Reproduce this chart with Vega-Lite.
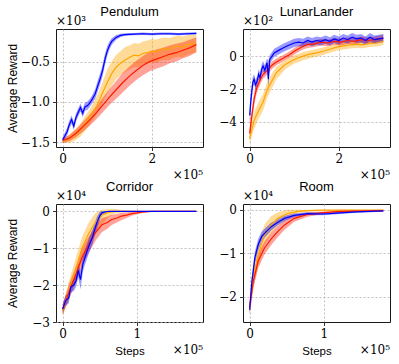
{
  "$schema": "https://vega.github.io/schema/vega-lite/v6.json",
  "padding": {"left": 5, "top": 5, "right": 5, "bottom": 5},
  "background": "white",
  "config": {
    "view": {"stroke": "#1a1a1a", "strokeWidth": 1},
    "axis": {
      "domain": false,
      "labelFont": "DejaVu Serif",
      "labelFontSize": 12,
      "labelColor": "#000",
      "labelPadding": 3,
      "tickColor": "#000",
      "tickSize": 3.5,
      "tickWidth": 0.8,
      "gridColor": "#b0b0b0",
      "gridDash": [2, 2],
      "gridWidth": 0.8,
      "titleFont": "Liberation Sans",
      "titleFontSize": 12,
      "titleFontWeight": "normal",
      "titleColor": "#000"
    },
    "title": {"font": "Liberation Sans", "fontSize": 13, "fontWeight": "normal", "color": "#000", "anchor": "middle", "offset": -4},
    "text": {"font": "DejaVu Serif", "fontSize": 12, "color": "#000"}
  },
  "datasets": {
    "curves": [
      {"p":"Pendulum","m":"Method 1","x":0.0,"y":-1.48,"lo":-1.51,"hi":-1.45},
      {"p":"Pendulum","m":"Method 1","x":0.1,"y":-1.47,"lo":-1.51,"hi":-1.43},
      {"p":"Pendulum","m":"Method 1","x":0.2,"y":-1.44,"lo":-1.5,"hi":-1.38},
      {"p":"Pendulum","m":"Method 1","x":0.3,"y":-1.4,"lo":-1.47,"hi":-1.33},
      {"p":"Pendulum","m":"Method 1","x":0.4,"y":-1.35,"lo":-1.43,"hi":-1.27},
      {"p":"Pendulum","m":"Method 1","x":0.5,"y":-1.27,"lo":-1.36,"hi":-1.18},
      {"p":"Pendulum","m":"Method 1","x":0.6,"y":-1.2,"lo":-1.29,"hi":-1.1},
      {"p":"Pendulum","m":"Method 1","x":0.7,"y":-1.11,"lo":-1.21,"hi":-1.0},
      {"p":"Pendulum","m":"Method 1","x":0.8,"y":-1.01,"lo":-1.12,"hi":-0.89},
      {"p":"Pendulum","m":"Method 1","x":0.9,"y":-0.88,"lo":-1.01,"hi":-0.74},
      {"p":"Pendulum","m":"Method 1","x":1.0,"y":-0.76,"lo":-0.9,"hi":-0.6},
      {"p":"Pendulum","m":"Method 1","x":1.1,"y":-0.65,"lo":-0.8,"hi":-0.5},
      {"p":"Pendulum","m":"Method 1","x":1.2,"y":-0.57,"lo":-0.72,"hi":-0.42},
      {"p":"Pendulum","m":"Method 1","x":1.3,"y":-0.52,"lo":-0.67,"hi":-0.37},
      {"p":"Pendulum","m":"Method 1","x":1.4,"y":-0.48,"lo":-0.63,"hi":-0.32},
      {"p":"Pendulum","m":"Method 1","x":1.5,"y":-0.45,"lo":-0.6,"hi":-0.3},
      {"p":"Pendulum","m":"Method 1","x":1.6,"y":-0.42,"lo":-0.57,"hi":-0.27},
      {"p":"Pendulum","m":"Method 1","x":1.7,"y":-0.43,"lo":-0.57,"hi":-0.28},
      {"p":"Pendulum","m":"Method 1","x":1.8,"y":-0.4,"lo":-0.54,"hi":-0.25},
      {"p":"Pendulum","m":"Method 1","x":1.9,"y":-0.39,"lo":-0.53,"hi":-0.24},
      {"p":"Pendulum","m":"Method 1","x":2.0,"y":-0.37,"lo":-0.51,"hi":-0.22},
      {"p":"Pendulum","m":"Method 1","x":2.1,"y":-0.38,"lo":-0.52,"hi":-0.23},
      {"p":"Pendulum","m":"Method 1","x":2.2,"y":-0.35,"lo":-0.49,"hi":-0.21},
      {"p":"Pendulum","m":"Method 1","x":2.3,"y":-0.34,"lo":-0.48,"hi":-0.2},
      {"p":"Pendulum","m":"Method 1","x":2.4,"y":-0.35,"lo":-0.48,"hi":-0.21},
      {"p":"Pendulum","m":"Method 1","x":2.5,"y":-0.32,"lo":-0.45,"hi":-0.19},
      {"p":"Pendulum","m":"Method 1","x":2.6,"y":-0.31,"lo":-0.44,"hi":-0.18},
      {"p":"Pendulum","m":"Method 1","x":2.7,"y":-0.32,"lo":-0.45,"hi":-0.19},
      {"p":"Pendulum","m":"Method 1","x":2.8,"y":-0.29,"lo":-0.42,"hi":-0.17},
      {"p":"Pendulum","m":"Method 1","x":2.9,"y":-0.28,"lo":-0.4,"hi":-0.17},
      {"p":"Pendulum","m":"Method 1","x":3.0,"y":-0.27,"lo":-0.39,"hi":-0.16},

      {"p":"Pendulum","m":"Method 2","x":0.0,"y":-1.48,"lo":-1.51,"hi":-1.45},
      {"p":"Pendulum","m":"Method 2","x":0.15,"y":-1.45,"lo":-1.49,"hi":-1.41},
      {"p":"Pendulum","m":"Method 2","x":0.3,"y":-1.39,"lo":-1.44,"hi":-1.34},
      {"p":"Pendulum","m":"Method 2","x":0.45,"y":-1.31,"lo":-1.37,"hi":-1.25},
      {"p":"Pendulum","m":"Method 2","x":0.6,"y":-1.23,"lo":-1.3,"hi":-1.16},
      {"p":"Pendulum","m":"Method 2","x":0.75,"y":-1.14,"lo":-1.22,"hi":-1.06},
      {"p":"Pendulum","m":"Method 2","x":0.9,"y":-1.04,"lo":-1.13,"hi":-0.95},
      {"p":"Pendulum","m":"Method 2","x":1.05,"y":-0.94,"lo":-1.04,"hi":-0.84},
      {"p":"Pendulum","m":"Method 2","x":1.2,"y":-0.85,"lo":-0.96,"hi":-0.74},
      {"p":"Pendulum","m":"Method 2","x":1.35,"y":-0.76,"lo":-0.88,"hi":-0.64},
      {"p":"Pendulum","m":"Method 2","x":1.5,"y":-0.68,"lo":-0.8,"hi":-0.56},
      {"p":"Pendulum","m":"Method 2","x":1.65,"y":-0.61,"lo":-0.73,"hi":-0.49},
      {"p":"Pendulum","m":"Method 2","x":1.8,"y":-0.55,"lo":-0.67,"hi":-0.43},
      {"p":"Pendulum","m":"Method 2","x":1.95,"y":-0.5,"lo":-0.62,"hi":-0.38},
      {"p":"Pendulum","m":"Method 2","x":2.1,"y":-0.47,"lo":-0.59,"hi":-0.35},
      {"p":"Pendulum","m":"Method 2","x":2.25,"y":-0.44,"lo":-0.56,"hi":-0.33},
      {"p":"Pendulum","m":"Method 2","x":2.4,"y":-0.41,"lo":-0.52,"hi":-0.3},
      {"p":"Pendulum","m":"Method 2","x":2.55,"y":-0.39,"lo":-0.5,"hi":-0.28},
      {"p":"Pendulum","m":"Method 2","x":2.7,"y":-0.36,"lo":-0.46,"hi":-0.26},
      {"p":"Pendulum","m":"Method 2","x":2.85,"y":-0.33,"lo":-0.43,"hi":-0.23},
      {"p":"Pendulum","m":"Method 2","x":3.0,"y":-0.29,"lo":-0.38,"hi":-0.2},

      {"p":"Pendulum","m":"Method 3","x":0.0,"y":-1.47,"lo":-1.5,"hi":-1.44},
      {"p":"Pendulum","m":"Method 3","x":0.05,"y":-1.42,"lo":-1.46,"hi":-1.38},
      {"p":"Pendulum","m":"Method 3","x":0.1,"y":-1.37,"lo":-1.42,"hi":-1.32},
      {"p":"Pendulum","m":"Method 3","x":0.15,"y":-1.28,"lo":-1.33,"hi":-1.23},
      {"p":"Pendulum","m":"Method 3","x":0.2,"y":-1.22,"lo":-1.27,"hi":-1.17},
      {"p":"Pendulum","m":"Method 3","x":0.25,"y":-1.3,"lo":-1.35,"hi":-1.25},
      {"p":"Pendulum","m":"Method 3","x":0.3,"y":-1.19,"lo":-1.24,"hi":-1.14},
      {"p":"Pendulum","m":"Method 3","x":0.35,"y":-1.13,"lo":-1.18,"hi":-1.08},
      {"p":"Pendulum","m":"Method 3","x":0.4,"y":-1.07,"lo":-1.12,"hi":-1.02},
      {"p":"Pendulum","m":"Method 3","x":0.45,"y":-1.14,"lo":-1.19,"hi":-1.09},
      {"p":"Pendulum","m":"Method 3","x":0.5,"y":-1.06,"lo":-1.11,"hi":-1.01},
      {"p":"Pendulum","m":"Method 3","x":0.55,"y":-1.05,"lo":-1.1,"hi":-1.0},
      {"p":"Pendulum","m":"Method 3","x":0.6,"y":-1.02,"lo":-1.07,"hi":-0.97},
      {"p":"Pendulum","m":"Method 3","x":0.66,"y":-0.97,"lo":-1.02,"hi":-0.92},
      {"p":"Pendulum","m":"Method 3","x":0.73,"y":-0.9,"lo":-0.96,"hi":-0.84},
      {"p":"Pendulum","m":"Method 3","x":0.8,"y":-0.78,"lo":-0.85,"hi":-0.71},
      {"p":"Pendulum","m":"Method 3","x":0.85,"y":-0.7,"lo":-0.77,"hi":-0.63},
      {"p":"Pendulum","m":"Method 3","x":0.9,"y":-0.6,"lo":-0.67,"hi":-0.53},
      {"p":"Pendulum","m":"Method 3","x":0.95,"y":-0.47,"lo":-0.54,"hi":-0.4},
      {"p":"Pendulum","m":"Method 3","x":1.0,"y":-0.37,"lo":-0.43,"hi":-0.31},
      {"p":"Pendulum","m":"Method 3","x":1.05,"y":-0.3,"lo":-0.35,"hi":-0.25},
      {"p":"Pendulum","m":"Method 3","x":1.1,"y":-0.25,"lo":-0.29,"hi":-0.21},
      {"p":"Pendulum","m":"Method 3","x":1.2,"y":-0.2,"lo":-0.23,"hi":-0.17},
      {"p":"Pendulum","m":"Method 3","x":1.3,"y":-0.175,"lo":-0.195,"hi":-0.155},
      {"p":"Pendulum","m":"Method 3","x":1.4,"y":-0.165,"lo":-0.18,"hi":-0.15},
      {"p":"Pendulum","m":"Method 3","x":1.6,"y":-0.16,"lo":-0.175,"hi":-0.145},
      {"p":"Pendulum","m":"Method 3","x":1.8,"y":-0.155,"lo":-0.17,"hi":-0.14},
      {"p":"Pendulum","m":"Method 3","x":2.0,"y":-0.16,"lo":-0.175,"hi":-0.145},
      {"p":"Pendulum","m":"Method 3","x":2.2,"y":-0.155,"lo":-0.17,"hi":-0.14},
      {"p":"Pendulum","m":"Method 3","x":2.4,"y":-0.155,"lo":-0.17,"hi":-0.14},
      {"p":"Pendulum","m":"Method 3","x":2.6,"y":-0.16,"lo":-0.175,"hi":-0.145},
      {"p":"Pendulum","m":"Method 3","x":2.8,"y":-0.155,"lo":-0.17,"hi":-0.14},
      {"p":"Pendulum","m":"Method 3","x":3.0,"y":-0.15,"lo":-0.165,"hi":-0.135},

      {"p":"LunarLander","m":"Method 1","x":0.0,"y":-5.0,"lo":-5.3,"hi":-4.6},
      {"p":"LunarLander","m":"Method 1","x":0.1,"y":-3.9,"lo":-4.4,"hi":-3.4},
      {"p":"LunarLander","m":"Method 1","x":0.2,"y":-3.3,"lo":-3.8,"hi":-2.8},
      {"p":"LunarLander","m":"Method 1","x":0.3,"y":-2.8,"lo":-3.3,"hi":-2.3},
      {"p":"LunarLander","m":"Method 1","x":0.4,"y":-2.0,"lo":-2.5,"hi":-1.5},
      {"p":"LunarLander","m":"Method 1","x":0.5,"y":-1.5,"lo":-1.95,"hi":-1.05},
      {"p":"LunarLander","m":"Method 1","x":0.6,"y":-1.0,"lo":-1.4,"hi":-0.65},
      {"p":"LunarLander","m":"Method 1","x":0.7,"y":-0.75,"lo":-1.1,"hi":-0.45},
      {"p":"LunarLander","m":"Method 1","x":0.8,"y":-0.5,"lo":-0.8,"hi":-0.25},
      {"p":"LunarLander","m":"Method 1","x":0.9,"y":-0.35,"lo":-0.62,"hi":-0.1},
      {"p":"LunarLander","m":"Method 1","x":1.0,"y":-0.2,"lo":-0.45,"hi":0.05},
      {"p":"LunarLander","m":"Method 1","x":1.1,"y":-0.1,"lo":-0.35,"hi":0.15},
      {"p":"LunarLander","m":"Method 1","x":1.2,"y":0.0,"lo":-0.25,"hi":0.25},
      {"p":"LunarLander","m":"Method 1","x":1.35,"y":0.12,"lo":-0.12,"hi":0.35},
      {"p":"LunarLander","m":"Method 1","x":1.5,"y":0.2,"lo":-0.04,"hi":0.43},
      {"p":"LunarLander","m":"Method 1","x":1.65,"y":0.3,"lo":0.07,"hi":0.52},
      {"p":"LunarLander","m":"Method 1","x":1.8,"y":0.42,"lo":0.2,"hi":0.64},
      {"p":"LunarLander","m":"Method 1","x":1.95,"y":0.55,"lo":0.33,"hi":0.76},
      {"p":"LunarLander","m":"Method 1","x":2.1,"y":0.62,"lo":0.4,"hi":0.83},
      {"p":"LunarLander","m":"Method 1","x":2.25,"y":0.68,"lo":0.46,"hi":0.89},
      {"p":"LunarLander","m":"Method 1","x":2.4,"y":0.72,"lo":0.5,"hi":0.93},
      {"p":"LunarLander","m":"Method 1","x":2.55,"y":0.7,"lo":0.48,"hi":0.92},
      {"p":"LunarLander","m":"Method 1","x":2.7,"y":0.77,"lo":0.55,"hi":0.98},
      {"p":"LunarLander","m":"Method 1","x":2.85,"y":0.8,"lo":0.58,"hi":1.0},
      {"p":"LunarLander","m":"Method 1","x":3.0,"y":0.9,"lo":0.68,"hi":1.1},

      {"p":"LunarLander","m":"Method 2","x":0.0,"y":-4.7,"lo":-5.1,"hi":-4.3},
      {"p":"LunarLander","m":"Method 2","x":0.05,"y":-3.6,"lo":-4.0,"hi":-3.2},
      {"p":"LunarLander","m":"Method 2","x":0.1,"y":-2.6,"lo":-3.0,"hi":-2.2},
      {"p":"LunarLander","m":"Method 2","x":0.15,"y":-2.0,"lo":-2.35,"hi":-1.65},
      {"p":"LunarLander","m":"Method 2","x":0.2,"y":-1.65,"lo":-1.95,"hi":-1.35},
      {"p":"LunarLander","m":"Method 2","x":0.25,"y":-1.35,"lo":-1.65,"hi":-1.05},
      {"p":"LunarLander","m":"Method 2","x":0.3,"y":-1.1,"lo":-1.38,"hi":-0.85},
      {"p":"LunarLander","m":"Method 2","x":0.4,"y":-0.85,"lo":-1.1,"hi":-0.6},
      {"p":"LunarLander","m":"Method 2","x":0.5,"y":-0.55,"lo":-0.78,"hi":-0.33},
      {"p":"LunarLander","m":"Method 2","x":0.6,"y":-0.35,"lo":-0.55,"hi":-0.15},
      {"p":"LunarLander","m":"Method 2","x":0.7,"y":-0.2,"lo":-0.4,"hi":0.0},
      {"p":"LunarLander","m":"Method 2","x":0.8,"y":-0.05,"lo":-0.25,"hi":0.15},
      {"p":"LunarLander","m":"Method 2","x":0.9,"y":0.1,"lo":-0.1,"hi":0.3},
      {"p":"LunarLander","m":"Method 2","x":1.0,"y":0.3,"lo":0.1,"hi":0.5},
      {"p":"LunarLander","m":"Method 2","x":1.1,"y":0.45,"lo":0.25,"hi":0.65},
      {"p":"LunarLander","m":"Method 2","x":1.2,"y":0.6,"lo":0.4,"hi":0.8},
      {"p":"LunarLander","m":"Method 2","x":1.3,"y":0.7,"lo":0.5,"hi":0.9},
      {"p":"LunarLander","m":"Method 2","x":1.45,"y":0.75,"lo":0.55,"hi":0.95},
      {"p":"LunarLander","m":"Method 2","x":1.6,"y":0.85,"lo":0.65,"hi":1.05},
      {"p":"LunarLander","m":"Method 2","x":1.75,"y":0.8,"lo":0.6,"hi":1.0},
      {"p":"LunarLander","m":"Method 2","x":1.9,"y":0.9,"lo":0.7,"hi":1.1},
      {"p":"LunarLander","m":"Method 2","x":2.05,"y":0.85,"lo":0.65,"hi":1.05},
      {"p":"LunarLander","m":"Method 2","x":2.2,"y":0.95,"lo":0.75,"hi":1.15},
      {"p":"LunarLander","m":"Method 2","x":2.35,"y":0.9,"lo":0.7,"hi":1.1},
      {"p":"LunarLander","m":"Method 2","x":2.5,"y":1.0,"lo":0.8,"hi":1.2},
      {"p":"LunarLander","m":"Method 2","x":2.65,"y":0.95,"lo":0.75,"hi":1.15},
      {"p":"LunarLander","m":"Method 2","x":2.8,"y":1.0,"lo":0.8,"hi":1.2},
      {"p":"LunarLander","m":"Method 2","x":3.0,"y":1.1,"lo":0.9,"hi":1.3},

      {"p":"LunarLander","m":"Method 3","x":0.0,"y":-3.6,"lo":-4.2,"hi":-3.0},
      {"p":"LunarLander","m":"Method 3","x":0.03,"y":-2.6,"lo":-3.1,"hi":-2.1},
      {"p":"LunarLander","m":"Method 3","x":0.07,"y":-1.6,"lo":-1.95,"hi":-1.25},
      {"p":"LunarLander","m":"Method 3","x":0.1,"y":-1.4,"lo":-1.7,"hi":-1.1},
      {"p":"LunarLander","m":"Method 3","x":0.13,"y":-1.75,"lo":-2.05,"hi":-1.45},
      {"p":"LunarLander","m":"Method 3","x":0.17,"y":-1.5,"lo":-1.8,"hi":-1.2},
      {"p":"LunarLander","m":"Method 3","x":0.2,"y":-1.1,"lo":-1.4,"hi":-0.8},
      {"p":"LunarLander","m":"Method 3","x":0.23,"y":-1.3,"lo":-1.6,"hi":-1.0},
      {"p":"LunarLander","m":"Method 3","x":0.27,"y":-0.8,"lo":-1.1,"hi":-0.5},
      {"p":"LunarLander","m":"Method 3","x":0.3,"y":-0.6,"lo":-0.9,"hi":-0.3},
      {"p":"LunarLander","m":"Method 3","x":0.34,"y":-0.85,"lo":-1.15,"hi":-0.55},
      {"p":"LunarLander","m":"Method 3","x":0.39,"y":-0.4,"lo":-0.7,"hi":-0.15},
      {"p":"LunarLander","m":"Method 3","x":0.42,"y":-1.4,"lo":-2.0,"hi":-0.3},
      {"p":"LunarLander","m":"Method 3","x":0.45,"y":-0.2,"lo":-0.45,"hi":0.05},
      {"p":"LunarLander","m":"Method 3","x":0.55,"y":0.2,"lo":-0.05,"hi":0.45},
      {"p":"LunarLander","m":"Method 3","x":0.65,"y":0.35,"lo":0.1,"hi":0.6},
      {"p":"LunarLander","m":"Method 3","x":0.75,"y":0.5,"lo":0.25,"hi":0.75},
      {"p":"LunarLander","m":"Method 3","x":0.85,"y":0.63,"lo":0.38,"hi":0.88},
      {"p":"LunarLander","m":"Method 3","x":1.0,"y":0.8,"lo":0.55,"hi":1.05},
      {"p":"LunarLander","m":"Method 3","x":1.1,"y":0.85,"lo":0.6,"hi":1.1},
      {"p":"LunarLander","m":"Method 3","x":1.2,"y":0.8,"lo":0.55,"hi":1.05},
      {"p":"LunarLander","m":"Method 3","x":1.3,"y":0.95,"lo":0.7,"hi":1.2},
      {"p":"LunarLander","m":"Method 3","x":1.4,"y":0.85,"lo":0.6,"hi":1.1},
      {"p":"LunarLander","m":"Method 3","x":1.5,"y":0.95,"lo":0.7,"hi":1.2},
      {"p":"LunarLander","m":"Method 3","x":1.6,"y":0.9,"lo":0.65,"hi":1.15},
      {"p":"LunarLander","m":"Method 3","x":1.7,"y":1.0,"lo":0.75,"hi":1.25},
      {"p":"LunarLander","m":"Method 3","x":1.8,"y":0.9,"lo":0.65,"hi":1.15},
      {"p":"LunarLander","m":"Method 3","x":1.9,"y":1.05,"lo":0.8,"hi":1.3},
      {"p":"LunarLander","m":"Method 3","x":2.0,"y":0.95,"lo":0.7,"hi":1.2},
      {"p":"LunarLander","m":"Method 3","x":2.1,"y":1.1,"lo":0.85,"hi":1.35},
      {"p":"LunarLander","m":"Method 3","x":2.2,"y":1.0,"lo":0.75,"hi":1.25},
      {"p":"LunarLander","m":"Method 3","x":2.3,"y":1.15,"lo":0.9,"hi":1.4},
      {"p":"LunarLander","m":"Method 3","x":2.4,"y":1.05,"lo":0.8,"hi":1.3},
      {"p":"LunarLander","m":"Method 3","x":2.5,"y":1.1,"lo":0.85,"hi":1.35},
      {"p":"LunarLander","m":"Method 3","x":2.6,"y":0.95,"lo":0.7,"hi":1.2},
      {"p":"LunarLander","m":"Method 3","x":2.7,"y":1.15,"lo":0.9,"hi":1.4},
      {"p":"LunarLander","m":"Method 3","x":2.8,"y":1.0,"lo":0.75,"hi":1.25},
      {"p":"LunarLander","m":"Method 3","x":2.9,"y":1.05,"lo":0.8,"hi":1.3},
      {"p":"LunarLander","m":"Method 3","x":3.0,"y":1.1,"lo":0.85,"hi":1.35},

      {"p":"Corridor","m":"Method 1","x":0.0,"y":-2.7,"lo":-2.85,"hi":-2.55},
      {"p":"Corridor","m":"Method 1","x":0.09,"y":-2.1,"lo":-2.35,"hi":-1.85},
      {"p":"Corridor","m":"Method 1","x":0.18,"y":-1.55,"lo":-1.85,"hi":-1.25},
      {"p":"Corridor","m":"Method 1","x":0.26,"y":-1.0,"lo":-1.35,"hi":-0.7},
      {"p":"Corridor","m":"Method 1","x":0.35,"y":-0.6,"lo":-0.95,"hi":-0.3},
      {"p":"Corridor","m":"Method 1","x":0.44,"y":-0.3,"lo":-0.6,"hi":-0.05},
      {"p":"Corridor","m":"Method 1","x":0.53,"y":-0.1,"lo":-0.35,"hi":0.05},
      {"p":"Corridor","m":"Method 1","x":0.62,"y":-0.02,"lo":-0.15,"hi":0.06},
      {"p":"Corridor","m":"Method 1","x":0.7,"y":0.0,"lo":-0.06,"hi":0.07},
      {"p":"Corridor","m":"Method 1","x":0.8,"y":0.0,"lo":-0.03,"hi":0.03},
      {"p":"Corridor","m":"Method 1","x":1.0,"y":0.0,"lo":-0.01,"hi":0.01},
      {"p":"Corridor","m":"Method 1","x":1.4,"y":0.0,"lo":-0.01,"hi":0.01},
      {"p":"Corridor","m":"Method 1","x":1.8,"y":0.0,"lo":-0.01,"hi":0.01},

      {"p":"Corridor","m":"Method 2","x":0.0,"y":-2.65,"lo":-2.78,"hi":-2.52},
      {"p":"Corridor","m":"Method 2","x":0.09,"y":-2.15,"lo":-2.35,"hi":-1.95},
      {"p":"Corridor","m":"Method 2","x":0.18,"y":-1.7,"lo":-1.92,"hi":-1.48},
      {"p":"Corridor","m":"Method 2","x":0.26,"y":-1.25,"lo":-1.48,"hi":-1.02},
      {"p":"Corridor","m":"Method 2","x":0.35,"y":-0.9,"lo":-1.12,"hi":-0.68},
      {"p":"Corridor","m":"Method 2","x":0.44,"y":-0.58,"lo":-0.8,"hi":-0.38},
      {"p":"Corridor","m":"Method 2","x":0.53,"y":-0.36,"lo":-0.56,"hi":-0.18},
      {"p":"Corridor","m":"Method 2","x":0.6,"y":-0.3,"lo":-0.47,"hi":-0.14},
      {"p":"Corridor","m":"Method 2","x":0.66,"y":-0.22,"lo":-0.37,"hi":-0.09},
      {"p":"Corridor","m":"Method 2","x":0.73,"y":-0.18,"lo":-0.3,"hi":-0.07},
      {"p":"Corridor","m":"Method 2","x":0.79,"y":-0.13,"lo":-0.24,"hi":-0.04},
      {"p":"Corridor","m":"Method 2","x":0.86,"y":-0.1,"lo":-0.18,"hi":-0.03},
      {"p":"Corridor","m":"Method 2","x":0.93,"y":-0.06,"lo":-0.12,"hi":-0.01},
      {"p":"Corridor","m":"Method 2","x":1.0,"y":-0.04,"lo":-0.08,"hi":0.0},
      {"p":"Corridor","m":"Method 2","x":1.06,"y":-0.02,"lo":-0.05,"hi":0.0},
      {"p":"Corridor","m":"Method 2","x":1.19,"y":0.0,"lo":-0.01,"hi":0.01},
      {"p":"Corridor","m":"Method 2","x":1.5,"y":0.0,"lo":-0.01,"hi":0.01},
      {"p":"Corridor","m":"Method 2","x":1.8,"y":0.0,"lo":-0.01,"hi":0.01},

      {"p":"Corridor","m":"Method 3","x":0.0,"y":-2.65,"lo":-2.78,"hi":-2.52},
      {"p":"Corridor","m":"Method 3","x":0.04,"y":-2.42,"lo":-2.56,"hi":-2.28},
      {"p":"Corridor","m":"Method 3","x":0.08,"y":-2.35,"lo":-2.5,"hi":-2.2},
      {"p":"Corridor","m":"Method 3","x":0.11,"y":-2.05,"lo":-2.2,"hi":-1.9},
      {"p":"Corridor","m":"Method 3","x":0.15,"y":-2.0,"lo":-2.16,"hi":-1.84},
      {"p":"Corridor","m":"Method 3","x":0.18,"y":-1.88,"lo":-2.05,"hi":-1.71},
      {"p":"Corridor","m":"Method 3","x":0.21,"y":-1.6,"lo":-1.78,"hi":-1.42},
      {"p":"Corridor","m":"Method 3","x":0.24,"y":-1.85,"lo":-2.12,"hi":-1.6},
      {"p":"Corridor","m":"Method 3","x":0.27,"y":-1.45,"lo":-1.65,"hi":-1.25},
      {"p":"Corridor","m":"Method 3","x":0.3,"y":-1.25,"lo":-1.45,"hi":-1.05},
      {"p":"Corridor","m":"Method 3","x":0.33,"y":-1.07,"lo":-1.27,"hi":-0.87},
      {"p":"Corridor","m":"Method 3","x":0.36,"y":-0.9,"lo":-1.1,"hi":-0.7},
      {"p":"Corridor","m":"Method 3","x":0.4,"y":-0.71,"lo":-0.9,"hi":-0.52},
      {"p":"Corridor","m":"Method 3","x":0.43,"y":-0.5,"lo":-0.68,"hi":-0.32},
      {"p":"Corridor","m":"Method 3","x":0.46,"y":-0.31,"lo":-0.47,"hi":-0.15},
      {"p":"Corridor","m":"Method 3","x":0.5,"y":-0.12,"lo":-0.24,"hi":-0.01},
      {"p":"Corridor","m":"Method 3","x":0.53,"y":-0.04,"lo":-0.1,"hi":0.01},
      {"p":"Corridor","m":"Method 3","x":0.58,"y":-0.01,"lo":-0.03,"hi":0.01},
      {"p":"Corridor","m":"Method 3","x":0.62,"y":0.0,"lo":-0.01,"hi":0.01},
      {"p":"Corridor","m":"Method 3","x":1.0,"y":0.0,"lo":-0.01,"hi":0.01},
      {"p":"Corridor","m":"Method 3","x":1.4,"y":0.0,"lo":-0.01,"hi":0.01},
      {"p":"Corridor","m":"Method 3","x":1.8,"y":0.0,"lo":-0.01,"hi":0.01},

      {"p":"Room","m":"Method 1","x":0.0,"y":-2.3,"lo":-2.45,"hi":-2.15},
      {"p":"Room","m":"Method 1","x":0.05,"y":-1.56,"lo":-1.78,"hi":-1.34},
      {"p":"Room","m":"Method 1","x":0.115,"y":-1.03,"lo":-1.28,"hi":-0.78},
      {"p":"Room","m":"Method 1","x":0.2,"y":-0.58,"lo":-0.82,"hi":-0.34},
      {"p":"Room","m":"Method 1","x":0.29,"y":-0.35,"lo":-0.55,"hi":-0.15},
      {"p":"Room","m":"Method 1","x":0.38,"y":-0.2,"lo":-0.36,"hi":-0.06},
      {"p":"Room","m":"Method 1","x":0.51,"y":-0.09,"lo":-0.18,"hi":0.0},
      {"p":"Room","m":"Method 1","x":0.65,"y":-0.04,"lo":-0.09,"hi":0.0},
      {"p":"Room","m":"Method 1","x":0.78,"y":-0.02,"lo":-0.05,"hi":0.0},
      {"p":"Room","m":"Method 1","x":1.0,"y":-0.01,"lo":-0.03,"hi":0.0},
      {"p":"Room","m":"Method 1","x":1.8,"y":-0.01,"lo":-0.02,"hi":0.0},

      {"p":"Room","m":"Method 2","x":0.0,"y":-2.23,"lo":-2.38,"hi":-2.08},
      {"p":"Room","m":"Method 2","x":0.05,"y":-1.63,"lo":-1.8,"hi":-1.46},
      {"p":"Room","m":"Method 2","x":0.115,"y":-1.18,"lo":-1.34,"hi":-1.02},
      {"p":"Room","m":"Method 2","x":0.2,"y":-0.88,"lo":-1.03,"hi":-0.73},
      {"p":"Room","m":"Method 2","x":0.29,"y":-0.67,"lo":-0.81,"hi":-0.53},
      {"p":"Room","m":"Method 2","x":0.38,"y":-0.5,"lo":-0.63,"hi":-0.37},
      {"p":"Room","m":"Method 2","x":0.47,"y":-0.35,"lo":-0.46,"hi":-0.24},
      {"p":"Room","m":"Method 2","x":0.6,"y":-0.2,"lo":-0.28,"hi":-0.12},
      {"p":"Room","m":"Method 2","x":0.78,"y":-0.11,"lo":-0.16,"hi":-0.06},
      {"p":"Room","m":"Method 2","x":1.0,"y":-0.07,"lo":-0.1,"hi":-0.04},
      {"p":"Room","m":"Method 2","x":1.22,"y":-0.04,"lo":-0.06,"hi":-0.02},
      {"p":"Room","m":"Method 2","x":1.8,"y":-0.02,"lo":-0.04,"hi":0.0},

      {"p":"Room","m":"Method 3","x":0.0,"y":-2.3,"lo":-2.42,"hi":-2.18},
      {"p":"Room","m":"Method 3","x":0.027,"y":-1.7,"lo":-1.84,"hi":-1.56},
      {"p":"Room","m":"Method 3","x":0.07,"y":-1.1,"lo":-1.24,"hi":-0.96},
      {"p":"Room","m":"Method 3","x":0.115,"y":-0.8,"lo":-0.93,"hi":-0.67},
      {"p":"Room","m":"Method 3","x":0.16,"y":-0.62,"lo":-0.73,"hi":-0.51},
      {"p":"Room","m":"Method 3","x":0.226,"y":-0.5,"lo":-0.6,"hi":-0.4},
      {"p":"Room","m":"Method 3","x":0.29,"y":-0.39,"lo":-0.48,"hi":-0.3},
      {"p":"Room","m":"Method 3","x":0.38,"y":-0.29,"lo":-0.36,"hi":-0.22},
      {"p":"Room","m":"Method 3","x":0.47,"y":-0.2,"lo":-0.26,"hi":-0.14},
      {"p":"Room","m":"Method 3","x":0.6,"y":-0.13,"lo":-0.17,"hi":-0.09},
      {"p":"Room","m":"Method 3","x":0.78,"y":-0.09,"lo":-0.12,"hi":-0.06},
      {"p":"Room","m":"Method 3","x":1.0,"y":-0.1,"lo":-0.13,"hi":-0.07},
      {"p":"Room","m":"Method 3","x":1.22,"y":-0.075,"lo":-0.1,"hi":-0.05},
      {"p":"Room","m":"Method 3","x":1.44,"y":-0.05,"lo":-0.07,"hi":-0.03},
      {"p":"Room","m":"Method 3","x":1.8,"y":-0.03,"lo":-0.05,"hi":-0.01}
    ]
  },
  "columns": 2,
  "spacing": {"row": 57, "column": 40},
  "bounds": "flush",
  "concat": [
    {
      "width": 147, "height": 118,
      "title": "Pendulum",
      "layer": [
        {
          "data": {"name": "curves"},
          "transform": [{"filter": "datum.p === 'Pendulum'"}],
          "layer": [
            {"mark": {"type": "area", "opacity": 0.4}, "encoding": {"x": {"field": "x", "type": "quantitative"}, "y": {"field": "lo", "type": "quantitative"}, "y2": {"field": "hi"}}},
            {"mark": {"type": "line", "strokeWidth": 1.2}, "encoding": {"x": {"field": "x", "type": "quantitative"}, "y": {"field": "y", "type": "quantitative"}}}
          ],
          "encoding": {
            "color": {"field": "m", "type": "nominal", "legend": null, "scale": {"domain": ["Method 1", "Method 2", "Method 3"], "range": ["#ffa500", "#ff1a00", "#0000ff"]}}
          }
        },
        {"data": {"values": [{"t": "×10³"}]}, "mark": {"type": "text", "align": "left", "baseline": "alphabetic", "dy": -4}, "encoding": {"x": {"datum": -0.15}, "y": {"datum": -0.096}, "text": {"field": "t"}}},
        {"data": {"values": [{"t": "×10⁵"}]}, "mark": {"type": "text", "align": "right", "baseline": "alphabetic", "dy": 32}, "encoding": {"x": {"datum": 3.15}, "y": {"datum": -1.56}, "text": {"field": "t"}}}
      ],
      "encoding": {
        "x": {"type": "quantitative", "scale": {"domain": [-0.15, 3.15], "nice": false, "zero": false}, "axis": {"values": [0, 2], "format": "d", "title": null}},
        "y": {"type": "quantitative", "scale": {"domain": [-1.56, -0.096], "nice": false, "zero": false}, "axis": {"values": [-1.5, -1.0, -0.5], "format": ".1f", "title": "Average Reward", "titleX": -44, "titleY": 59, "titleBaseline": "middle"}}
      }
    },
    {
      "width": 147, "height": 118,
      "title": "LunarLander",
      "layer": [
        {
          "data": {"name": "curves"},
          "transform": [{"filter": "datum.p === 'LunarLander'"}],
          "layer": [
            {"mark": {"type": "area", "opacity": 0.4}, "encoding": {"x": {"field": "x", "type": "quantitative"}, "y": {"field": "lo", "type": "quantitative"}, "y2": {"field": "hi"}}},
            {"mark": {"type": "line", "strokeWidth": 1.2}, "encoding": {"x": {"field": "x", "type": "quantitative"}, "y": {"field": "y", "type": "quantitative"}}}
          ],
          "encoding": {
            "color": {"field": "m", "type": "nominal", "legend": null, "scale": {"domain": ["Method 1", "Method 2", "Method 3"], "range": ["#ffa500", "#ff1a00", "#0000ff"]}}
          }
        },
        {"data": {"values": [{"t": "×10²"}]}, "mark": {"type": "text", "align": "left", "baseline": "alphabetic", "dy": -4}, "encoding": {"x": {"datum": -0.15}, "y": {"datum": 1.65}, "text": {"field": "t"}}},
        {"data": {"values": [{"t": "×10⁵"}]}, "mark": {"type": "text", "align": "right", "baseline": "alphabetic", "dy": 32}, "encoding": {"x": {"datum": 3.15}, "y": {"datum": -5.52}, "text": {"field": "t"}}}
      ],
      "encoding": {
        "x": {"type": "quantitative", "scale": {"domain": [-0.15, 3.15], "nice": false, "zero": false}, "axis": {"values": [0, 2], "format": "d", "title": null}},
        "y": {"type": "quantitative", "scale": {"domain": [-5.52, 1.65], "nice": false, "zero": false}, "axis": {"values": [-4, -2, 0], "format": "d", "title": null}}
      }
    },
    {
      "width": 147, "height": 118,
      "title": "Corridor",
      "layer": [
        {
          "data": {"name": "curves"},
          "transform": [{"filter": "datum.p === 'Corridor'"}],
          "layer": [
            {"mark": {"type": "area", "opacity": 0.4}, "encoding": {"x": {"field": "x", "type": "quantitative"}, "y": {"field": "lo", "type": "quantitative"}, "y2": {"field": "hi"}}},
            {"mark": {"type": "line", "strokeWidth": 1.2}, "encoding": {"x": {"field": "x", "type": "quantitative"}, "y": {"field": "y", "type": "quantitative"}}}
          ],
          "encoding": {
            "color": {"field": "m", "type": "nominal", "legend": null, "scale": {"domain": ["Method 1", "Method 2", "Method 3"], "range": ["#ffa500", "#ff1a00", "#0000ff"]}}
          }
        },
        {"data": {"values": [{"t": "×10⁴"}]}, "mark": {"type": "text", "align": "left", "baseline": "alphabetic", "dy": -4}, "encoding": {"x": {"datum": -0.09}, "y": {"datum": 0.2}, "text": {"field": "t"}}},
        {"data": {"values": [{"t": "×10⁵"}]}, "mark": {"type": "text", "align": "right", "baseline": "alphabetic", "dy": 32}, "encoding": {"x": {"datum": 1.89}, "y": {"datum": -3.0}, "text": {"field": "t"}}}
      ],
      "encoding": {
        "x": {"type": "quantitative", "scale": {"domain": [-0.09, 1.89], "nice": false, "zero": false}, "axis": {"values": [0, 1], "format": "d", "title": "Steps", "titleX": 73.5, "titleY": 32, "titleBaseline": "alphabetic", "titleFontSize": 11.5}},
        "y": {"type": "quantitative", "scale": {"domain": [-3.0, 0.2], "nice": false, "zero": false}, "axis": {"values": [-3, -2, -1, 0], "format": "d", "title": "Average Reward", "titleX": -44, "titleY": 59, "titleBaseline": "middle"}}
      }
    },
    {
      "width": 147, "height": 118,
      "title": "Room",
      "layer": [
        {
          "data": {"name": "curves"},
          "transform": [{"filter": "datum.p === 'Room'"}],
          "layer": [
            {"mark": {"type": "area", "opacity": 0.4}, "encoding": {"x": {"field": "x", "type": "quantitative"}, "y": {"field": "lo", "type": "quantitative"}, "y2": {"field": "hi"}}},
            {"mark": {"type": "line", "strokeWidth": 1.2}, "encoding": {"x": {"field": "x", "type": "quantitative"}, "y": {"field": "y", "type": "quantitative"}}}
          ],
          "encoding": {
            "color": {"field": "m", "type": "nominal", "legend": null, "scale": {"domain": ["Method 1", "Method 2", "Method 3"], "range": ["#ffa500", "#ff1a00", "#0000ff"]}}
          }
        },
        {"data": {"values": [{"t": "×10⁴"}]}, "mark": {"type": "text", "align": "left", "baseline": "alphabetic", "dy": -4}, "encoding": {"x": {"datum": -0.09}, "y": {"datum": 0.13}, "text": {"field": "t"}}},
        {"data": {"values": [{"t": "×10⁵"}]}, "mark": {"type": "text", "align": "right", "baseline": "alphabetic", "dy": 32}, "encoding": {"x": {"datum": 1.89}, "y": {"datum": -2.58}, "text": {"field": "t"}}}
      ],
      "encoding": {
        "x": {"type": "quantitative", "scale": {"domain": [-0.09, 1.89], "nice": false, "zero": false}, "axis": {"values": [0, 1], "format": "d", "title": "Steps", "titleX": 73.5, "titleY": 32, "titleBaseline": "alphabetic", "titleFontSize": 11.5}},
        "y": {"type": "quantitative", "scale": {"domain": [-2.58, 0.13], "nice": false, "zero": false}, "axis": {"values": [-2, -1, 0], "format": "d", "title": null}}
      }
    }
  ]
}
